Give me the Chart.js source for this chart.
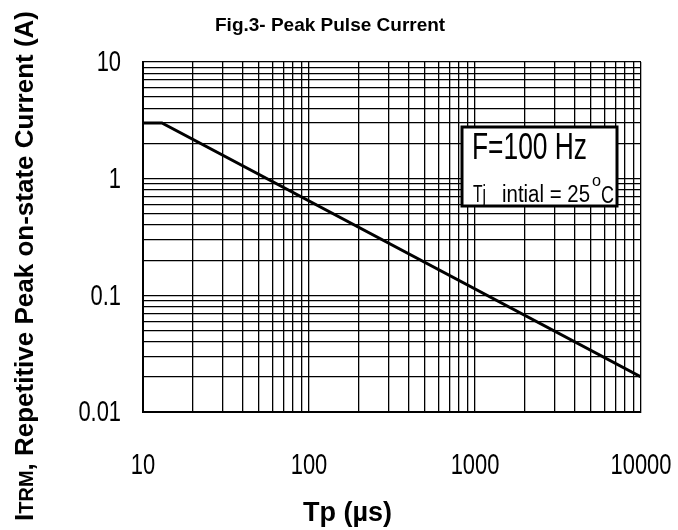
<!DOCTYPE html>
<html>
<head>
<meta charset="utf-8">
<script src="https://cdn.jsdelivr.net/npm/chart.js@4.4.1/dist/chart.umd.min.js"></script>
<style>
  html, body { margin: 0; padding: 0; background: #fff; }
  #wrap { width: 678px; height: 530px; }
</style>
</head>
<body>
<div id="wrap"><canvas id="pulseChart" width="678" height="530"></canvas></div>
<script>
// Data
const pulseWidths = [10, 13, 10000];       // Tp (us)
const peakCurrents = [3, 3, 0.02];         // ITRM (A)

// Grid / tick values (log decades with 1..9 subdivisions)
const xGridValues = [10, 20, 30, 40, 50, 60, 70, 80, 90, 100, 200, 300, 400, 500, 600, 700, 800, 900,
    1000, 2000, 3000, 4000, 5000, 6000, 7000, 8000, 9000, 10000];
const yGridValues = [0.01, 0.02, 0.03, 0.04, 0.05, 0.06, 0.07, 0.08, 0.09, 0.1, 0.2, 0.3, 0.4, 0.5, 0.6,
    0.7, 0.8, 0.9, 1, 2, 3, 4, 5, 6, 7, 8, 9, 10];
const xTickLabels = ['10', '100', '1000', '10000'];
const yTickLabels = ['0.01', '0.1', '1', '10'];

const FONT = "'Liberation Sans', Arial, sans-serif";
const SQUEEZE = 0.73;   // tick labels in the figure are horizontally condensed

// draw text squeezed horizontally, x is the anchor (left/center/right)
function squeezedText(ctx, text, x, y, font, sx, align) {
    ctx.save();
    ctx.font = font;
    const w = ctx.measureText(text).width * sx;
    let left = x;
    if (align === 'center') left = x - w / 2;
    if (align === 'right') left = x - w;
    ctx.translate(left, y);
    ctx.scale(sx, 1);
    ctx.textAlign = 'left';
    ctx.fillText(text, 0, 0);
    ctx.restore();
    return w;
}

// draw text squeezed to fill a given width
function fittedText(ctx, text, x, y, font, width) {
    ctx.save();
    ctx.font = font;
    const sx = width / ctx.measureText(text).width;
    ctx.restore();
    return squeezedText(ctx, text, x, y, font, sx, 'left');
}

// Draws tick labels, title, axis titles and the note box
const extrasPlugin = {
    id: 'extras',
    afterDraw(chart) {
        const ctx = chart.ctx;
        const xs = chart.scales.x, ys = chart.scales.y;
        ctx.save();
        ctx.fillStyle = '#000';
        ctx.textBaseline = 'middle';

        // tick labels
        xTickLabels.forEach(t => {
            squeezedText(ctx, t, xs.getPixelForValue(Number(t)), 466, '30px ' + FONT, SQUEEZE, 'center');
        });
        yTickLabels.forEach(t => {
            squeezedText(ctx, t, 121, ys.getPixelForValue(Number(t)) + 1, '30px ' + FONT, SQUEEZE, 'right');
        });

        ctx.textBaseline = 'alphabetic';
        // title
        ctx.font = 'bold 19px ' + FONT;
        ctx.fillText('Fig.3- Peak Pulse Current', 215, 31);
        // x axis title
        ctx.font = 'bold 27px ' + FONT;
        ctx.fillText('Tp (\u00b5s)', 303, 521);

        // y axis title (rotated, TRM in small caps)
        ctx.save();
        ctx.translate(33, 266);
        ctx.rotate(-Math.PI / 2);
        const big = 'bold 26px ' + FONT;
        const small = 'bold 20px ' + FONT;
        const parts = [['I', big], ['TRM', small], [', Repetitive Peak on-state Current (A)', big]];
        let total = 0;
        parts.forEach(p => { ctx.font = p[1]; total += ctx.measureText(p[0]).width; });
        let x = -total / 2;
        parts.forEach(p => {
            ctx.font = p[1];
            ctx.fillText(p[0], x, 0);
            x += ctx.measureText(p[0]).width;
        });
        ctx.restore();

        // note box
        const bx = 462, by = 127, bw = 155, bh = 79;
        ctx.fillStyle = '#fff';
        ctx.fillRect(bx, by, bw, bh);
        ctx.strokeStyle = '#000';
        ctx.lineWidth = 3;
        ctx.strokeRect(bx, by, bw, bh);
        ctx.fillStyle = '#000';
        fittedText(ctx, 'F=100 Hz', 472, 159, '36px ' + FONT, 115);
        fittedText(ctx, 'Tj', 473, 202, '23px ' + FONT, 13);
        const w = fittedText(ctx, 'intial = 25', 502, 202, '23px ' + FONT, 88);
        fittedText(ctx, 'o', 502 + w + 2, 186, '16px ' + FONT, 9);
        fittedText(ctx, 'C', 502 + w + 11, 203, '23px ' + FONT, 13);
        ctx.restore();
    }
};

const ctx = document.getElementById('pulseChart').getContext('2d');
const pulseChart = new Chart(ctx, {
    type: 'scatter',
    data: {
        datasets: [{
            data: pulseWidths.map((v, i) => ({ x: v, y: peakCurrents[i] })),
            showLine: true,
            borderColor: '#000',
            borderWidth: 3,
            pointRadius: 0,
            tension: 0
        }]
    },
    options: {
        responsive: false,
        animation: false,
        events: [],
        layout: { padding: { left: 0, right: 37, top: 62, bottom: 0 } },
        plugins: { legend: { display: false }, tooltip: { enabled: false } },
        scales: {
            x: {
                type: 'logarithmic',
                min: 10,
                max: 10000,
                afterBuildTicks: axis => { axis.ticks = xGridValues.map(v => ({ value: v })); },
                afterFit: axis => { axis.height = 118; },
                grid: { color: '#000', lineWidth: 1.3, drawTicks: false },
                border: { color: '#000', width: 2 },
                ticks: { display: false }
            },
            y: {
                type: 'logarithmic',
                min: 0.01,
                max: 10,
                afterBuildTicks: axis => { axis.ticks = yGridValues.map(v => ({ value: v })); },
                afterFit: axis => { axis.width = 143; },
                grid: { color: '#000', lineWidth: 1.3, drawTicks: false },
                border: { color: '#000', width: 2 },
                ticks: { display: false }
            }
        }
    },
    plugins: [extrasPlugin]
});
</script>
</body>
</html>
